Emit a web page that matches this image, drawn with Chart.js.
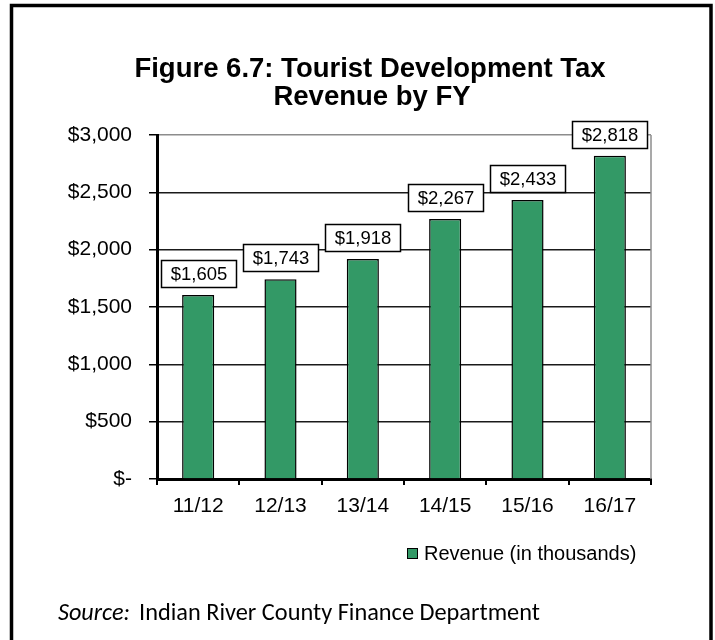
<!DOCTYPE html>
<html>
<head>
<meta charset="utf-8">
<script src="https://cdn.jsdelivr.net/npm/chart.js@4/dist/chart.umd.min.js"></script>
<style>
  html, body { margin: 0; padding: 0; background: #fff; }
  #c { display: block; }
</style>
</head>
<body>
<canvas id="c" width="715" height="640"></canvas>
<script>
// ---- data ----
const categories = ['11/12', '12/13', '13/14', '14/15', '15/16', '16/17'];
const revenue = [1605, 1743, 1918, 2267, 2433, 2818];
const yTickValues = [0, 500, 1000, 1500, 2000, 2500, 3000];
const titleLines = ['Figure 6.7: Tourist Development Tax', 'Revenue by FY'];
const seriesLabel = 'Revenue (in thousands)';
const sourceLead = 'Source:';
const sourceText = 'Indian River County Finance Department';

const FONT = "'Liberation Sans', Arial, sans-serif";
const GREEN = '#339966';

function money(v) {
  return v === 0 ? '$-' : '$' + v.toLocaleString('en-US');
}

function fitFont(ctx, text, style, family, targetW) {
  ctx.font = style + ' 20px ' + family;
  const w = ctx.measureText(text).width;
  return 20 * targetW / w;
}

const decor = {
  id: 'decor',
  beforeDraw(chart) {
    const ctx = chart.ctx;
    ctx.save();
    ctx.fillStyle = '#fff';
    ctx.fillRect(0, 0, chart.width, chart.height);
    ctx.restore();
  },
  afterDraw(chart) {
    const ctx = chart.ctx;
    const a = chart.chartArea;
    ctx.save();
    // plot area right border (gray)
    ctx.strokeStyle = '#8c8c8c';
    ctx.lineWidth = 1.5;
    ctx.beginPath();
    ctx.moveTo(a.right, a.top);
    ctx.lineTo(a.right, a.bottom);
    ctx.stroke();

    // title
    ctx.fillStyle = '#000';
    ctx.textAlign = 'center';
    ctx.textBaseline = 'middle';
    ctx.font = 'bold 27.5px ' + FONT;
    ctx.fillText(titleLines[0], 370, 69);
    ctx.fillText(titleLines[1], 372, 97);

    // legend
    const ds = chart.data.datasets[0];
    ctx.fillStyle = ds.backgroundColor;
    ctx.fillRect(407, 548, 10, 10);
    ctx.strokeStyle = '#000';
    ctx.lineWidth = 1;
    ctx.strokeRect(407.5, 548.5, 10, 10);
    ctx.fillStyle = '#000';
    ctx.textAlign = 'left';
    ctx.textBaseline = 'middle';
    ctx.font = '20px ' + FONT;
    ctx.fillText(ds.label, 424, 554);

    // source
    const srcFam = "Carlito, Calibri, Lato, 'Open Sans', sans-serif";
    const s1 = fitFont(ctx, sourceLead, 'italic', srcFam, 72);
    ctx.font = 'italic ' + s1.toFixed(2) + 'px ' + srcFam;
    ctx.textBaseline = 'alphabetic';
    ctx.fillText(sourceLead, 58, 620);
    const s2 = fitFont(ctx, sourceText, 'normal', srcFam, 401);
    ctx.font = s2.toFixed(2) + 'px ' + srcFam;
    ctx.fillText(sourceText, 139, 620);

    // outer border
    ctx.strokeStyle = '#000';
    ctx.lineWidth = 3.5;
    ctx.strokeRect(11.5, 5.5, 699.5, 700);
    ctx.restore();
  },
  afterDatasetsDraw(chart) {
    const ctx = chart.ctx;
    const meta = chart.getDatasetMeta(0);
    const vals = chart.data.datasets[0].data;
    ctx.save();
    ctx.font = '18.5px ' + FONT;
    ctx.textAlign = 'center';
    ctx.textBaseline = 'middle';
    meta.data.forEach((bar, i) => {
      const txt = money(vals[i]);
      const w = Math.round(ctx.measureText(txt).width + 18);
      const h = 27;
      const x = Math.round(bar.x - w / 2) + 0.5;
      const y = Math.round(bar.y - 8 - h) + 0.5;
      ctx.fillStyle = '#fff';
      ctx.fillRect(x, y, w, h);
      ctx.strokeStyle = '#000';
      ctx.lineWidth = 1.5;
      ctx.strokeRect(x, y, w, h);
      ctx.fillStyle = '#000';
      ctx.fillText(txt, x + w / 2, y + h / 2 + 1);
    });
    ctx.restore();
  }
};

new Chart(document.getElementById('c'), {
  type: 'bar',
  data: {
    labels: categories,
    datasets: [{
      label: seriesLabel,
      data: revenue,
      backgroundColor: GREEN,
      borderColor: '#000',
      borderWidth: 1.5,
      categoryPercentage: 1,
      barPercentage: 0.39
    }]
  },
  options: {
    responsive: false,
    animation: false,
    devicePixelRatio: 1,
    layout: { padding: { top: 135, right: 64, bottom: 0, left: 0 } },
    plugins: {
      legend: { display: false },
      title: { display: false },
      tooltip: { enabled: false }
    },
    scales: {
      x: {
        offset: true,
        grid: {
          drawOnChartArea: false,
          drawTicks: true,
          tickLength: 6,
          color: '#000',
          lineWidth: 2,
          offset: true
        },
        border: { color: '#000', width: 3 },
        ticks: { color: '#000', font: { family: FONT, size: 21 }, padding: 9 },
        afterFit(axis) { axis.height = 161; }
      },
      y: {
        min: 0,
        max: 3000,
        afterBuildTicks(axis) { axis.ticks = yTickValues.map(v => ({ value: v })); },
        grid: {
          color: (c) => (c.tick && c.tick.value === 3000) ? '#8c8c8c' : '#1a1a1a',
          lineWidth: 1.5,
          tickLength: 8,
          tickColor: '#000'
        },
        border: { color: '#000', width: 3 },
        ticks: {
          color: '#000',
          font: { family: FONT, size: 21 },
          padding: 17,
          callback: (v) => money(v)
        },
        afterFit(axis) { axis.width = 157; }
      }
    }
  },
  plugins: [decor]
});
</script>
</body>
</html>
